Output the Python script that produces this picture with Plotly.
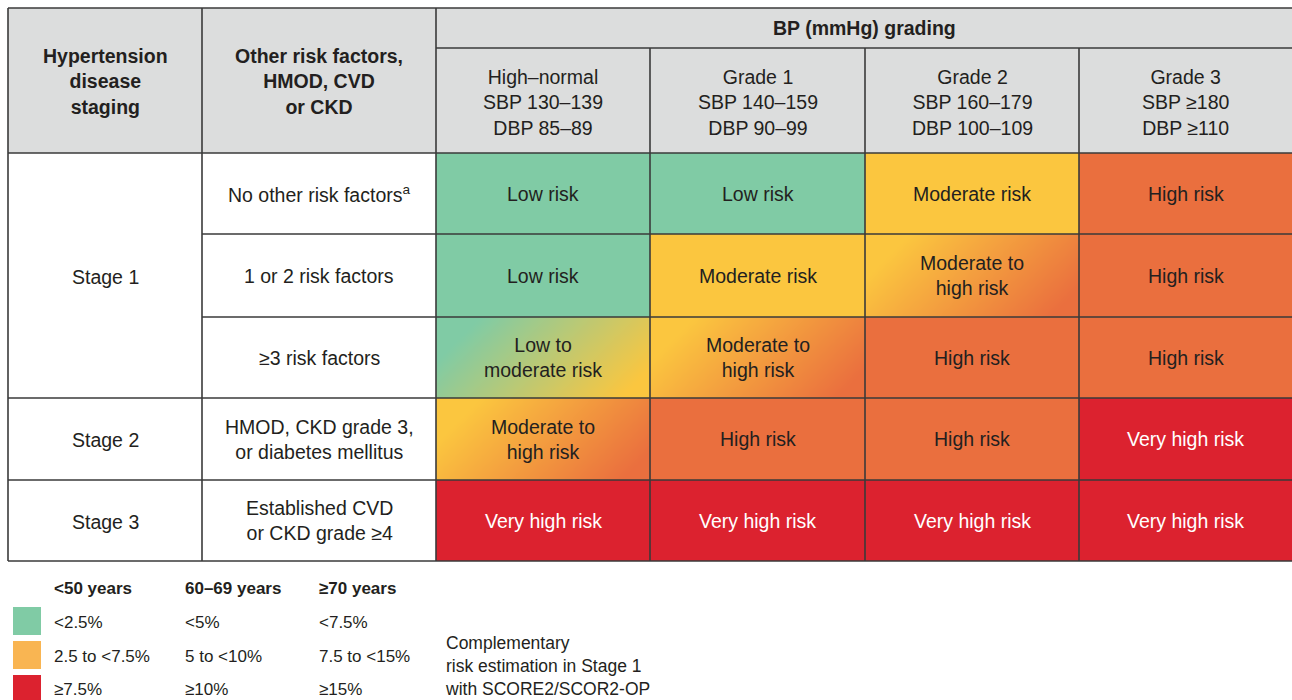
import numpy as np
import plotly.graph_objects as go

# ---------------- data ----------------
stages = ["Stage 1", "Stage 2", "Stage 3"]
stage_row_span = [3, 1, 1]
risk_factor_labels = [
    "No other risk factors<sup>a</sup>",
    "1 or 2 risk factors",
    "≥3 risk factors",
    "HMOD, CKD grade 3,<br>or diabetes mellitus",
    "Established CVD<br>or CKD grade ≥4",
]
bp_grades = [
    "High–normal<br>SBP 130–139<br>DBP 85–89",
    "Grade 1<br>SBP 140–159<br>DBP 90–99",
    "Grade 2<br>SBP 160–179<br>DBP 100–109",
    "Grade 3<br>SBP ≥180<br>DBP ≥110",
]
risk_matrix = [
    ["Low risk", "Low risk", "Moderate risk", "High risk"],
    ["Low risk", "Moderate risk", "Moderate to high risk", "High risk"],
    ["Low to moderate risk", "Moderate to high risk", "High risk", "High risk"],
    ["Moderate to high risk", "High risk", "High risk", "Very high risk"],
    ["Very high risk", "Very high risk", "Very high risk", "Very high risk"],
]
header_col1 = "Hypertension<br>disease<br>staging"
header_col2 = "Other risk factors,<br>HMOD, CVD<br>or CKD"
header_bp = "BP (mmHg) grading"

legend_age_groups = ["<50 years", "60–69 years", "≥70 years"]
legend_rows = [
    ["<2.5%", "<5%", "<7.5%"],
    ["2.5 to <7.5%", "5 to <10%", "7.5 to <15%"],
    ["≥7.5%", "≥10%", "≥15%"],
]
legend_note = "Complementary<br>risk estimation in Stage 1<br>with SCORE2/SCOR2-OP"

# ---------------- style ----------------
GREEN = "#80CBA5"
YELLOW = "#FBC63F"
ORANGE = "#EA6F3E"
RED = "#DC222F"
HEADER_BG = "#DCDDDD"
LINE = "#3A3A3A"
TXT = "#231F20"
FONT = "Liberation Sans, Arial, sans-serif"
FS = 19.5

solid_colors = {
    "Low risk": GREEN,
    "Moderate risk": YELLOW,
    "High risk": ORANGE,
    "Very high risk": RED,
}
gradient_colors = {
    "Low to moderate risk": (GREEN, YELLOW),
    "Moderate to high risk": (YELLOW, ORANGE),
}
label_text = {
    "Low to moderate risk": "Low to<br>moderate risk",
    "Moderate to high risk": "Moderate to<br>high risk",
}
legend_sq_colors = [GREEN, "#F9B552", RED]

col_edges = [8, 202, 436, 650, 865, 1079, 1292]
row_edges = [8, 153, 234, 317, 398, 480, 561]
bp_split = 48

fig = go.Figure()
shapes = []
annotations = []

def rect(x0, y0, x1, y1, fill, layer="below"):
    shapes.append(dict(type="rect", xref="x", yref="y", x0=x0, x1=x1, y0=y0, y1=y1,
                       fillcolor=fill, line=dict(width=0), layer=layer))

def line(x0, y0, x1, y1, w=1.6, color=LINE):
    shapes.append(dict(type="line", xref="x", yref="y", x0=x0, x1=x1, y0=y0, y1=y1,
                       line=dict(color=color, width=w), layer="above"))

def text(x, y, s, size=FS, color=TXT, bold=False, xanchor="center", family=FONT):
    if bold:
        s = "<b>" + s.replace("<br>", "</b><br><b>") + "</b>"
    annotations.append(dict(x=x, y=y, xref="x", yref="y", text=s, showarrow=False,
                            xanchor=xanchor, yanchor="middle",
                            align="center" if xanchor == "center" else "left",
                            font=dict(family=family, size=size, color=color)))

# header background
rect(col_edges[0], row_edges[0], col_edges[-1], row_edges[1], HEADER_BG)
text((col_edges[0] + col_edges[1]) / 2, 81, header_col1, bold=True)
text((col_edges[1] + col_edges[2]) / 2, 81, header_col2, bold=True)
text((col_edges[2] + col_edges[-1]) / 2, 28, header_bp, bold=True)
for j, g in enumerate(bp_grades):
    text((col_edges[j + 2] + col_edges[j + 3]) / 2, 102, g)

# stage labels
r = 0
for st, span in zip(stages, stage_row_span):
    y0, y1 = row_edges[1 + r], row_edges[1 + r + span]
    text((col_edges[0] + col_edges[1]) / 2, (y0 + y1) / 2 + 1, st)
    r += span

# risk factor labels and risk cells
for i, lab in enumerate(risk_factor_labels):
    y0, y1 = row_edges[i + 1], row_edges[i + 2]
    text((col_edges[1] + col_edges[2]) / 2, (y0 + y1) / 2, lab)
    for j, risk in enumerate(risk_matrix[i]):
        x0, x1 = col_edges[j + 2], col_edges[j + 3]
        if risk in solid_colors:
            rect(x0, y0, x1, y1, solid_colors[risk])
        else:
            c0, c1 = gradient_colors[risk]
            nx, ny = 60, 24
            xe = np.linspace(x0, x1, nx + 1)
            ye = np.linspace(y0, y1, ny + 1)
            xc = (xe[:-1] + xe[1:]) / 2
            yc = (ye[:-1] + ye[1:]) / 2
            w, h = x1 - x0, y1 - y0
            s = ((xc[None, :] - x0) + (yc[:, None] - y0)) / (w + h)
            t = np.clip((s - 0.15) / 0.75, 0, 1)
            fig.add_trace(go.Heatmap(x=xe, y=ye, z=t, zmin=0, zmax=1, zsmooth="best",
                                     colorscale=[[0, c0], [1, c1]], showscale=False,
                                     hoverinfo="skip"))
        color = "white" if risk == "Very high risk" else TXT
        text((x0 + x1) / 2, (y0 + y1) / 2, label_text.get(risk, risk), color=color)

# grid lines
L, R = col_edges[0], col_edges[-1]
line(L, row_edges[0], R, row_edges[0])
line(col_edges[2], bp_split, R, bp_split)
line(L, row_edges[1], R, row_edges[1])
line(col_edges[1], row_edges[2], R, row_edges[2])
line(col_edges[1], row_edges[3], R, row_edges[3])
line(L, row_edges[4], R, row_edges[4])
line(L, row_edges[5], R, row_edges[5])
line(L, row_edges[6], R, row_edges[6])
line(col_edges[0], row_edges[0], col_edges[0], row_edges[-1])
line(col_edges[1], row_edges[0], col_edges[1], row_edges[-1])
line(col_edges[2], row_edges[0], col_edges[2], row_edges[-1])
for c in col_edges[3:6]:
    line(c, bp_split, c, row_edges[-1])

# legend
leg_cols = [52, 183, 317]
for k, ag in enumerate(legend_age_groups):
    text(leg_cols[k], 588, ag, size=17, bold=True, xanchor="left")
leg_rows_y = [622, 656, 689]
sq_y = [(607, 635), (641, 669), (675, 703)]
for i, row in enumerate(legend_rows):
    rect(13, sq_y[i][0], 41, sq_y[i][1], legend_sq_colors[i])
    for k, v in enumerate(row):
        text(leg_cols[k], leg_rows_y[i], v, size=17, xanchor="left")
text(443, 666, legend_note, size=17.5, xanchor="left")

fig.update_layout(
    width=1292, height=700,
    margin=dict(l=0, r=0, t=0, b=0),
    paper_bgcolor="white", plot_bgcolor="white",
    xaxis=dict(range=[0, 1292], visible=False, fixedrange=True),
    yaxis=dict(range=[700, 0], visible=False, fixedrange=True),
    shapes=shapes, annotations=annotations,
    showlegend=False,
)
fig.write_html("out.html", config={"displayModeBar": False},
               post_script="document.body.style.margin='0';document.body.style.overflow='hidden';")
